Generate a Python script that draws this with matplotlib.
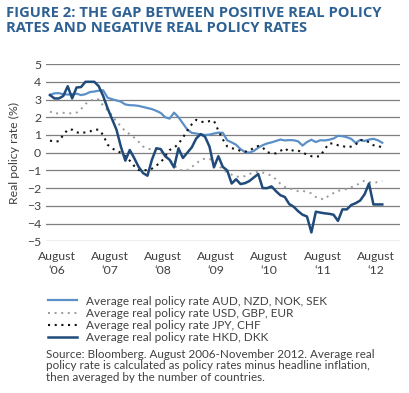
import matplotlib
matplotlib.use("Agg")
import matplotlib.pyplot as plt
from matplotlib.lines import Line2D

# monthly, Aug 2006 - Nov 2012
aud_nzd_nok_sek = [3.26, 3.35, 3.36, 3.30, 3.28, 3.30, 3.33, 3.25, 3.30, 3.42,
                   3.45, 3.50, 3.52, 3.10, 3.02, 2.95, 2.88, 2.72, 2.68, 2.67,
                   2.64, 2.58, 2.52, 2.46, 2.36, 2.24, 2.00, 1.92, 2.26, 2.00,
                   1.65, 1.30, 1.12, 1.08, 1.03, 1.00, 1.02, 1.08, 1.13, 1.12,
                   0.70, 0.58, 0.45, 0.20, 0.04, 0.00, 0.10, 0.28, 0.42, 0.52,
                   0.58, 0.66, 0.74, 0.69, 0.71, 0.70, 0.64, 0.40, 0.60, 0.73,
                   0.60, 0.70, 0.69, 0.73, 0.80, 0.95, 0.93, 0.87, 0.78, 0.55,
                   0.72, 0.66, 0.74, 0.78, 0.70, 0.56]
usd_gbp_eur = [2.32, 2.20, 2.23, 2.25, 2.22, 2.22, 2.26, 2.45, 2.75, 2.90,
               3.05, 3.00, 2.65, 2.40, 2.10, 1.75, 1.50, 1.20, 1.05, 0.85,
               0.62, 0.35, 0.22, 0.19, 0.20, 0.00, -0.20, -0.42, -0.68, -0.95,
               -1.00, -0.98, -0.80, -0.62, -0.40, -0.33, -0.35, -0.50, -0.70, -0.95,
               -1.12, -1.24, -1.35, -1.36, -1.32, -1.20, -1.12, -1.07, -1.12, -1.20,
               -1.30, -1.50, -1.75, -1.93, -2.00, -2.10, -2.17, -2.15, -2.22, -2.30,
               -2.50, -2.60, -2.63, -2.40, -2.28, -2.15, -2.10, -2.05, -1.95, -1.85,
               -1.72, -1.58, -1.65, -1.72, -1.65, -1.60]
jpy_chf = [0.68, 0.62, 0.65, 1.00, 1.30, 1.30, 1.15, 1.10, 1.15, 1.20,
           1.30, 1.30, 1.00, 0.45, 0.25, 0.10, 0.00, -0.20, -0.45, -0.75,
           -0.98, -1.00, -0.98, -0.90, -0.72, -0.55, -0.20, 0.15, 0.28, 0.50,
           0.85, 1.25, 1.60, 1.85, 1.75, 1.72, 1.78, 1.80, 1.25, 0.75,
           0.35, 0.25, 0.20, 0.10, 0.05, 0.15, 0.25, 0.38, 0.30, 0.02,
           -0.02, -0.04, 0.10, 0.25, 0.06, 0.15, 0.12, 0.00, -0.10, -0.20,
           -0.22, -0.20, 0.20, 0.52, 0.52, 0.42, 0.38, 0.30, 0.35, 0.45,
           0.72, 0.68, 0.60, 0.42, 0.38, 0.30]
hkd_dkk = [3.25, 3.06, 3.06, 3.20, 3.75, 3.06, 3.68, 3.70, 4.00, 4.00,
           4.00, 3.75, 3.20, 2.50, 1.90, 1.30, 0.34, -0.45, 0.15, -0.30,
           -0.80, -1.15, -1.30, -0.40, 0.25, 0.20, -0.20, -0.40, -0.83, 0.25,
           -0.30, 0.00, 0.30, 0.80, 1.05, 0.90, 0.34, -0.83, -0.20, -0.80,
           -1.00, -1.74, -1.50, -1.77, -1.72, -1.60, -1.40, -1.20, -2.00, -2.00,
           -1.90, -2.17, -2.40, -2.50, -2.90, -3.05, -3.30, -3.50, -3.60, -4.50,
           -3.33, -3.38, -3.42, -3.45, -3.50, -3.85, -3.20, -3.20, -2.95, -2.85,
           -2.70, -2.35, -1.74, -2.92, -2.92, -2.92]

tick_labels = ["August\n\u201806", "August\n\u201807", "August\n\u201808", "August\n\u201809",
               "August\n\u201810", "August\n\u201811", "August\n\u201812"]
series_names = ["Average real policy rate AUD, NZD, NOK, SEK",
                "Average real policy rate USD, GBP, EUR",
                "Average real policy rate JPY, CHF",
                "Average real policy rate HKD, DKK"]

plt.rcParams['font.family'] = ['Lato', 'DejaVu Sans']
txt = '#404040'

fig = plt.figure(figsize=(4.09, 3.93), dpi=100)
ax = fig.add_axes([0.1125, 0.386, 0.8655, 0.451])

months = list(range(len(hkd_dkk)))
ax.plot(months, aud_nzd_nok_sek, color='#5b8fc7', lw=1.6, zorder=3)
ax.plot(months, usd_gbp_eur, color='#9a9a9a', lw=1.4, ls=(0, (1, 2.4)), zorder=3)
ax.plot(months, jpy_chf, color='#111111', lw=1.5, ls=(0, (1, 2.2)), zorder=3)
ax.plot(months, hkd_dkk, color='#1f4a7a', lw=1.8, zorder=4)

ax.set_ylim(-5, 5)
ax.set_xlim(-0.9, 79)
ax.set_yticks(range(-5, 6))
ax.yaxis.grid(True, color='#7f7f7f', lw=0.9)
ax.set_axisbelow(True)
ax.set_xticks([1.5 + 12 * k for k in range(7)])
ax.set_xticklabels(tick_labels, fontsize=8.8, color=txt, linespacing=1.3)
ax.tick_params(length=0, labelsize=8.8, labelcolor=txt)
ax.tick_params(axis='x', pad=7)
for s in ax.spines.values():
    s.set_visible(False)
ax.set_ylabel("Real policy rate (%)", fontsize=8.8, color=txt, labelpad=5)

fig.text(0.015, 0.985, "FIGURE 2: THE GAP BETWEEN POSITIVE REAL POLICY\nRATES AND NEGATIVE REAL POLICY RATES",
         fontsize=10.6, fontweight='bold', color='#2e6193', va='top', ha='left',
         linespacing=1.1, family=['Open Sans', 'DejaVu Sans'])

handles = [Line2D([], [], color='#5b8fc7', lw=1.6),
           Line2D([], [], color='#9a9a9a', lw=1.4, ls=(0, (1, 2.4))),
           Line2D([], [], color='#111111', lw=1.5, ls=(0, (1, 2.2))),
           Line2D([], [], color='#1f4a7a', lw=1.8)]
leg = fig.legend(handles, series_names, loc='upper left', bbox_to_anchor=(0.104, 0.263),
                 frameon=False, fontsize=8.5, handlelength=2.4, handletextpad=0.8,
                 labelspacing=0.1, borderpad=0)
for t in leg.get_texts():
    t.set_color(txt)

fig.text(0.112, 0.112, "Source: Bloomberg. August 2006-November 2012. Average real\n"
         "policy rate is calculated as policy rates minus headline inflation,\n"
         "then averaged by the number of countries.",
         fontsize=8.4, color=txt, va='top', ha='left', linespacing=1.05)

fig.savefig("out.png", dpi=100)
